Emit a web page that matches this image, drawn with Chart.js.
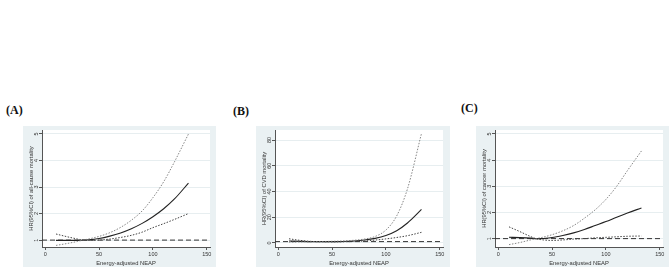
<!DOCTYPE html>
<html>
<head>
<meta charset="utf-8">
<script src="https://cdn.jsdelivr.net/npm/chart.js@4"></script>
<style>
  body { margin: 0; width: 669px; height: 267px; background: #fff; position: relative; overflow: hidden; }
  .panel { position: absolute; background: #eaf1f3; }
  .tag { position: absolute; font: bold 12px "Liberation Serif", "Times New Roman", serif; color: #111; }
</style>
</head>
<body>
<div class="tag" style="left:6px;top:103px">(A)</div>
<div class="tag" style="left:233px;top:104px">(B)</div>
<div class="tag" style="left:461px;top:101px">(C)</div>

<div class="panel" style="left:23px;top:126px;width:193px;height:141px"><canvas id="chartA" width="193" height="141"></canvas></div>
<div class="panel" style="left:256px;top:126px;width:194px;height:141px"><canvas id="chartB" width="194" height="141"></canvas></div>
<div class="panel" style="left:476px;top:126px;width:193px;height:141px"><canvas id="chartC" width="193" height="141"></canvas></div>

<script>
// energy-adjusted NEAP values where the spline was read
const neap = [10, 20, 30, 35, 40, 50, 60, 70, 80, 90, 100, 110, 120, 133];
const xTicks = [0, 50, 100, 150];

// (A) all-cause mortality
const hrAll = [0.99, 0.99, 0.99, 1.0, 1.01, 1.06, 1.15, 1.27, 1.43, 1.63, 1.88, 2.18, 2.55, 3.15];
const ciAllA = [0.80, 0.87, 0.95, 1.0, 1.04, 1.14, 1.28, 1.48, 1.75, 2.1, 2.6, 3.2, 3.95, 5.0];
const ciAllB = [1.23, 1.13, 1.04, 1.0, 0.99, 1.0, 1.04, 1.1, 1.18, 1.3, 1.47, 1.62, 1.78, 2.0];
const yTicksA = [1, 2, 3, 4, 5];

// (B) CVD mortality
const hrCvd = [1.5, 1.2, 1.0, 1.0, 0.95, 0.95, 1.1, 1.5, 2.2, 3.5, 5.8, 9.5, 15.5, 26];
const ciCvdA = [0.6, 0.75, 0.95, 1.0, 1.05, 1.2, 1.5, 2.0, 3.0, 5.0, 10, 21, 42, 85];
const ciCvdB = [3.2, 2.0, 1.2, 1.0, 0.9, 0.8, 0.85, 1.1, 1.5, 2.2, 3.1, 4.2, 5.6, 8.2];
const yTicksB = [0, 20, 40, 60, 80];

// (C) cancer mortality
const hrCan = [1.05, 1.04, 1.02, 1.0, 1.0, 1.04, 1.12, 1.22, 1.35, 1.5, 1.65, 1.82, 1.98, 2.17];
const ciCanA = [0.77, 0.85, 0.95, 1.0, 1.04, 1.15, 1.3, 1.5, 1.78, 2.1, 2.5, 3.0, 3.6, 4.35];
const ciCanB = [1.45, 1.27, 1.08, 1.0, 0.96, 0.93, 0.95, 0.98, 1.0, 1.03, 1.05, 1.07, 1.09, 1.1];
const yTicksC = [1, 2, 3, 4, 5];

const refHR = 1;
const FONT = "'Liberation Sans', Arial, sans-serif";

function pts(ys) {
  return neap.map((x, i) => ({ x: x, y: ys[i] }));
}

// white plot region, reference line, rotated y labels (Stata style)
const stataPlugin = {
  id: "stata",
  beforeDatasetsDraw(chart) {
    const { ctx, chartArea: a, scales } = chart;
    const y = scales.y.getPixelForValue(refHR);
    ctx.save();
    ctx.strokeStyle = "#333";
    ctx.lineWidth = 1;
    ctx.setLineDash([5, 3]);
    ctx.beginPath();
    ctx.moveTo(a.left, y);
    ctx.lineTo(a.right, y);
    ctx.stroke();
    ctx.restore();
  },
  beforeDraw(chart) {
    const { ctx, chartArea: a } = chart;
    ctx.save();
    ctx.fillStyle = "#fff";
    ctx.fillRect(a.left, a.top, a.right - a.left, a.bottom - a.top);
    ctx.restore();
  },
  afterDraw(chart) {
    const { ctx, chartArea: a, scales } = chart;
    const o = chart.options.plugins.stata;
    ctx.save();
    ctx.fillStyle = "#333";
    ctx.textAlign = "center";
    ctx.textBaseline = "middle";
    ctx.font = "5.5px " + FONT;
    o.ticks.forEach((t) => {
      const y = scales.y.getPixelForValue(t);
      ctx.save();
      ctx.translate(a.left - 6, y);
      ctx.rotate(-Math.PI / 2);
      ctx.fillText(String(t), 0, 0);
      ctx.restore();
    });
    ctx.font = "5.8px " + FONT;
    ctx.translate(a.left - 11, (a.top + a.bottom) / 2);
    ctx.rotate(-Math.PI / 2);
    ctx.fillText(o.title, 0, 0);
    ctx.restore();
  },
};

function makeChart(id, hr, ciA, ciB, yTicks, yMin, yMax, title, padRight) {
  return new Chart(document.getElementById(id), {
    type: "line",
    data: {
      datasets: [
        { data: pts(ciA), borderColor: "#777", borderWidth: 0.9, borderDash: [1.5, 1.5] },
        { data: pts(ciB), borderColor: "#444", borderWidth: 1, borderDash: [1.5, 1.5] },
        { data: pts(hr), borderColor: "#222", borderWidth: 1.1 },
      ],
    },
    options: {
      responsive: false,
      animation: false,
      devicePixelRatio: 1,
      layout: { padding: { left: 0, right: padRight, top: 4, bottom: 0 } },
      elements: {
        point: { radius: 0 },
        line: { cubicInterpolationMode: "monotone", fill: false },
      },
      plugins: {
        legend: { display: false },
        tooltip: { enabled: false },
        stata: { ticks: yTicks, title: title },
      },
      scales: {
        x: {
          type: "linear",
          min: -3,
          max: 153,
          afterBuildTicks: (s) => { s.ticks = xTicks.map((v) => ({ value: v })); },
          afterFit: (s) => { s.height = 20; },
          grid: { drawOnChartArea: false, tickLength: 3, tickColor: "#555" },
          border: { color: "#555" },
          ticks: { color: "#333", padding: 1, font: { size: 5.5, family: FONT } },
          title: {
            display: true,
            text: "Energy-adjusted NEAP",
            color: "#333",
            padding: { top: 0, bottom: 0 },
            font: { size: 5.8, family: FONT },
          },
        },
        y: {
          min: yMin,
          max: yMax,
          afterBuildTicks: (s) => { s.ticks = yTicks.map((v) => ({ value: v })); },
          afterFit: (s) => { s.width = 19; },
          grid: { color: "#e7eef0", tickLength: 3, tickColor: "#555" },
          border: { color: "#555" },
          ticks: { display: false },
        },
      },
    },
    plugins: [stataPlugin],
  });
}

makeChart("chartA", hrAll, ciAllA, ciAllB, yTicksA, 0.74, 5.15, "HR(95%CI) of all-cause mortality", 6);
makeChart("chartB", hrCvd, ciCvdA, ciCvdB, yTicksB, -3.2, 87.8, "HR(95%CI) of CVD mortality", 7);
makeChart("chartC", hrCan, ciCanA, ciCanB, yTicksC, 0.68, 5.15, "HR(95%CI) of cancer mortality", 6);
</script>
</body>
</html>
